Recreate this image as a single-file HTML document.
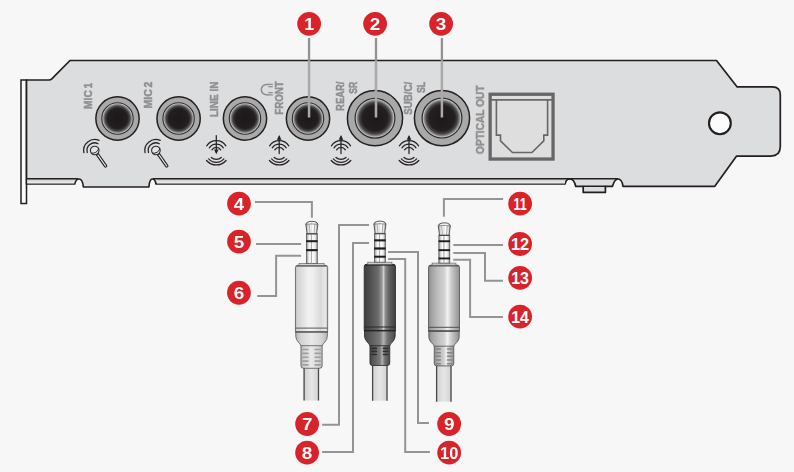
<!DOCTYPE html>
<html>
<head>
<meta charset="utf-8">
<title>Sound card connectors</title>
<style>
html,body{margin:0;padding:0;background:#f7f7f7;}
body{width:794px;height:472px;overflow:hidden;font-family:"Liberation Sans",sans-serif;}
svg{display:block;}
text{font-family:"Liberation Sans",sans-serif;font-weight:bold;}
.lbl{fill:#909090;stroke:#909090;stroke-width:0.5;stroke-linejoin:round;font-size:11.5px;}
.num{fill:#fff;font-size:17px;text-anchor:middle;}
.ld{fill:none;stroke:#949494;stroke-width:2;}
.ic{fill:none;stroke:#262223;stroke-width:1.25;stroke-linecap:round;}
</style>
</head>
<body>
<svg width="794" height="472" viewBox="0 0 794 472">
<defs>
  <radialGradient id="hole" cx="50%" cy="50%" r="50%">
    <stop offset="0" stop-color="#1c1819"/>
    <stop offset="0.64" stop-color="#231f20"/>
    <stop offset="0.79" stop-color="#474546"/>
    <stop offset="0.89" stop-color="#8a8a8a"/>
    <stop offset="0.945" stop-color="#c0c0c0"/>
    <stop offset="1" stop-color="#c8c8c8"/>
  </radialGradient>
  <linearGradient id="lip" x1="0" y1="0" x2="0" y2="1">
    <stop offset="0" stop-color="#c9c9c9"/>
    <stop offset="1" stop-color="#f2f2f2"/>
  </linearGradient>
  <linearGradient id="metal" x1="0" y1="0" x2="1" y2="0">
    <stop offset="0" stop-color="#8c8c8c"/>
    <stop offset="0.16" stop-color="#d4d4d4"/>
    <stop offset="0.32" stop-color="#ffffff"/>
    <stop offset="0.46" stop-color="#e2e2e2"/>
    <stop offset="0.6" stop-color="#ffffff"/>
    <stop offset="0.82" stop-color="#e6e6e6"/>
    <stop offset="1" stop-color="#8c8c8c"/>
  </linearGradient>
  <linearGradient id="bodyW" x1="0" y1="0" x2="1" y2="0">
    <stop offset="0" stop-color="#bdbdbd"/>
    <stop offset="0.06" stop-color="#d2d2d2"/>
    <stop offset="0.4" stop-color="#f1f1f1"/>
    <stop offset="0.55" stop-color="#eeeeee"/>
    <stop offset="0.78" stop-color="#dadada"/>
    <stop offset="0.93" stop-color="#e8e8e8"/>
    <stop offset="1" stop-color="#c2c2c2"/>
  </linearGradient>
  <linearGradient id="bodyD" x1="0" y1="0" x2="1" y2="0">
    <stop offset="0" stop-color="#3d3d3d"/>
    <stop offset="0.2" stop-color="#505050"/>
    <stop offset="0.45" stop-color="#6c6c6c"/>
    <stop offset="0.57" stop-color="#9a9a9a"/>
    <stop offset="0.62" stop-color="#d4d4d4"/>
    <stop offset="0.67" stop-color="#8e8e8e"/>
    <stop offset="0.8" stop-color="#606060"/>
    <stop offset="1" stop-color="#3f3f3f"/>
  </linearGradient>
  <linearGradient id="bodyD2" x1="0" y1="0" x2="1" y2="0">
    <stop offset="0" stop-color="#484848"/>
    <stop offset="0.25" stop-color="#606060"/>
    <stop offset="0.5" stop-color="#7a7a7a"/>
    <stop offset="0.62" stop-color="#b0b0b0"/>
    <stop offset="0.75" stop-color="#727272"/>
    <stop offset="1" stop-color="#4a4a4a"/>
  </linearGradient>
  <linearGradient id="bodyW2" x1="0" y1="0" x2="1" y2="0">
    <stop offset="0" stop-color="#b4b4b4"/>
    <stop offset="0.15" stop-color="#d2d2d2"/>
    <stop offset="0.5" stop-color="#e9e9e9"/>
    <stop offset="0.8" stop-color="#d6d6d6"/>
    <stop offset="1" stop-color="#b8b8b8"/>
  </linearGradient>
  <linearGradient id="bodyG" x1="0" y1="0" x2="1" y2="0">
    <stop offset="0" stop-color="#8a8a8a"/>
    <stop offset="0.1" stop-color="#a2a2a2"/>
    <stop offset="0.3" stop-color="#bebebe"/>
    <stop offset="0.5" stop-color="#d0d0d0"/>
    <stop offset="0.62" stop-color="#f2f2f2"/>
    <stop offset="0.72" stop-color="#cfcfcf"/>
    <stop offset="0.85" stop-color="#b2b2b2"/>
    <stop offset="1" stop-color="#909090"/>
  </linearGradient>
  <linearGradient id="cable" x1="0" y1="0" x2="1" y2="0">
    <stop offset="0" stop-color="#cfcfcf"/>
    <stop offset="0.5" stop-color="#e6e6e6"/>
    <stop offset="1" stop-color="#d2d2d2"/>
  </linearGradient>

  <!-- small jack -->
  <g id="jackS">
    <circle r="21.65" fill="#a9a9aa" stroke="#231f20" stroke-width="1.5"/>
    <circle r="15.7" fill="url(#hole)" stroke="#2f2c2d" stroke-width="1.1"/>
  </g>
  <!-- large jack -->
  <g id="jackL">
    <circle r="27.6" fill="#a9a9aa" stroke="#231f20" stroke-width="1.5"/>
    <circle r="19.9" fill="url(#hole)" stroke="#2f2c2d" stroke-width="1.2"/>
  </g>

  <!-- mic icon, origin = mic head centre -->
  <g id="mic">
    <path class="ic" d="M-10.8 2.2 A11 11 0 0 1 4.3 -10.1"/>
    <path class="ic" d="M-7.4 2 A7.6 7.6 0 0 1 3.4 -6.8"/>
    <path d="M1.66 4.36 L3.54 3.04 L11.84 14.84 A1.15 1.15 0 0 1 9.96 16.16 Z" fill="#f2f2f2" stroke="#262223" stroke-width="1.15" stroke-linejoin="round"/>
    <circle r="4.3" fill="#e4e4e4" stroke="#2a2a2a" stroke-width="1.1"/>
    <path class="ic" d="M-3.1 2.7 Q1.9 3.3 3.9 -1.5" style="stroke-width:1"/>
  </g>

  <!-- wave arcs, origin = centre -->
  <g id="arcs">
    <path class="ic" d="M-9.6 -6.2 A11.6 11.6 0 0 1 9.6 -6.2"/>
    <path class="ic" d="M-7 -4.2 A8.4 8.4 0 0 1 7 -4.2"/>
    <path class="ic" d="M-4.4 -2.2 A5.2 5.2 0 0 1 4.4 -2.2"/>
    <path class="ic" d="M-9.8 8.5 A13 13 0 0 0 9.8 8.5"/>
    <path class="ic" d="M-7.6 6.9 A10.2 10.2 0 0 0 7.6 6.9"/>
    <path class="ic" d="M-5 5.5 A7.4 7.4 0 0 0 5 5.5"/>
  </g>
  <g id="lineout">
    <use href="#arcs"/>
    <path d="M0 -15.2 L0 1.6" class="ic" stroke-width="1.2"/>
    <path d="M0 -17 L2.3 -12.3 L-2.3 -12.3 Z" fill="#262223"/>
  </g>
  <g id="linein">
    <use href="#arcs"/>
    <path d="M0 -16.4 L0 0" class="ic" stroke-width="1.2"/>
    <path d="M0 2.2 L2.3 -2.5 L-2.3 -2.5 Z" fill="#262223"/>
  </g>

  <!-- callout disc -->
  <circle id="disc" r="11.9" fill="#d8232a"/>
</defs>

<rect width="794" height="472" fill="#f7f7f7"/>

<!-- ===== bracket ===== -->
<rect x="21" y="80" width="5.5" height="123.5" fill="#fbfbfb" stroke="#231f20" stroke-width="1.5"/>
<path id="brk" d="M26.5 80 L49 80 Q50.6 80 51.8 78.8 L70 60.5 L716.5 60.5 L737.2 86.9 L772.3 86.9 Q780.3 86.9 780.3 94.9 L780.3 146.6 Q780.3 156.1 770.8 156.1 L736.6 156.1 L714.8 186.3
 L623 186.3 C622.5 183 622 179 618 179 C614.5 179 613.5 183 612.5 186.3
 L605.4 186.3 L605.4 192.4 L583.2 192.4 L583.2 186.3 L575.7 186.3
 C575 183 574 179 570 179 C566.5 179 566 181 565 184
 L156 184 C155.5 181 155 179 152.4 179 C149.6 179 149.2 183 148.9 187
 L83.4 187 C83 183 82.5 179 79 179 C76 179 75.4 181 74.7 184
 L26.5 184 Z" fill="#dcddde" stroke="#231f20" stroke-width="1.7" stroke-linejoin="round"/>
<!-- lips -->
<rect x="27.3" y="179" width="47" height="4.4" fill="url(#lip)"/>
<rect x="157" y="179" width="408" height="4.4" fill="url(#lip)"/>
<path d="M26.5 178.8 L78 178.8 M153 178.8 L618 178.8 M583.2 186.3 L605.4 186.3" fill="none" stroke="#231f20" stroke-width="1.5"/>
<!-- screw hole -->
<circle cx="719.9" cy="123.3" r="10.9" fill="#fcfcfc" stroke="#231f20" stroke-width="2.1"/>

<!-- jacks -->
<use href="#jackS" x="117.5" y="118.5"/>
<use href="#jackS" x="178.6" y="118.5"/>
<use href="#jackS" x="245" y="118.5"/>
<use href="#jackS" x="308" y="118.5"/>
<use href="#jackL" x="375" y="118.2"/>
<use href="#jackL" x="442" y="118.1"/>

<!-- optical -->
<rect x="490.15" y="94.25" width="62.9" height="64.8" fill="#dedede" stroke="#676768" stroke-width="3.3"/>
<path d="M491 99.9 H552" stroke="#676768" stroke-width="1.6" fill="none"/>
<path d="M496.4 99.9 V135.1 H500.5 V140.9 L512.4 152.5 H531.9 L543.8 140.9 V135.1 H547.6 V99.9" stroke="#676768" stroke-width="1.6" fill="none"/>

<!-- labels -->
<g opacity="0.999">
<text class="lbl" transform="translate(92.4 108.9) rotate(-90)" textLength="26.2" lengthAdjust="spacingAndGlyphs" style="word-spacing:-1.2px">MIC 1</text>
<text class="lbl" transform="translate(152.0 108.4) rotate(-90)" textLength="26.8" lengthAdjust="spacingAndGlyphs" style="word-spacing:-1.2px">MIC 2</text>
<text class="lbl" transform="translate(218.3 117.0) rotate(-90)" textLength="35.4" lengthAdjust="spacingAndGlyphs">LINE IN</text>
<text class="lbl" transform="translate(282.9 114.8) rotate(-90)" textLength="33.6" lengthAdjust="spacingAndGlyphs">FRONT</text>
<text class="lbl" transform="translate(344.0 110.9) rotate(-90)" textLength="29.2" lengthAdjust="spacingAndGlyphs">REAR/</text>
<text class="lbl" transform="translate(357.3 93.7) rotate(-90)" textLength="12.0" lengthAdjust="spacingAndGlyphs">SR</text>
<text class="lbl" transform="translate(412.0 114.7) rotate(-90)" textLength="33.0" lengthAdjust="spacingAndGlyphs">SUB/C/</text>
<text class="lbl" transform="translate(424.8 93.1) rotate(-90)" textLength="11.4" lengthAdjust="spacingAndGlyphs">SL</text>
<text class="lbl" transform="translate(484.0 154.1) rotate(-90)" textLength="68.6" lengthAdjust="spacingAndGlyphs">OPTICAL OUT</text>
</g>
<!-- headphone glyph -->
<g fill="none" stroke="#8c8c8c" stroke-width="1.5">
  <path d="M268.6 84.4 L266.5 84.4 A5.2 5.2 0 0 0 266.5 94.8 L268.6 94.8"/>
  <path d="M268 84.4 H272.8 M268.4 86.7 H272.8 M268.4 92.5 H272.8 M268 94.8 H272.8" stroke-width="1.25"/>
</g>

<!-- icons -->
<use href="#mic" x="94.7" y="150.5"/>
<use href="#mic" x="155.9" y="150.5"/>
<use href="#linein" x="216.3" y="152"/>
<use href="#lineout" x="279.2" y="152"/>
<use href="#lineout" x="341" y="152"/>
<use href="#lineout" x="409" y="152"/>

<!-- leaders 1-3 -->
<path class="ld" d="M309.05 38 V61 M376 38 V61 M441.9 38 V61" style="stroke:#929292;stroke-width:2.3"/>
<path class="ld" d="M309.05 61 V117.5 M376 61 V117.4 M441.9 61 V117.4" style="stroke:#a9a9a9;stroke-width:2.5"/>

<!-- PLUGS inserted below -->
<!--PLUGS_START-->
<g id="plugA">
<rect x="303.60" y="367.3" width="15.40" height="33.2" fill="url(#cable)"/>
<path d="M304.10 367.3 V400.5 M318.50 367.3 V400.5" stroke="#4a4a4a" stroke-width="1.3" fill="none"/>
<path d="M300.95 344.7 L300.95 365.8 Q300.95 368.3 303.45 368.3 L319.65 368.3 Q322.15 368.3 322.15 365.8 L322.15 344.7 Z" fill="url(#bodyW2)" stroke="#585858" stroke-width="0.8"/>
<path d="M302.85 349.5 H307.95 M315.15 349.5 H320.25" stroke="#a0a0a0" stroke-width="1.6" stroke-linecap="round" fill="none"/>
<path d="M302.85 353.4 H307.95 M315.15 353.4 H320.25" stroke="#a0a0a0" stroke-width="1.6" stroke-linecap="round" fill="none"/>
<path d="M302.85 357.2 H307.95 M315.15 357.2 H320.25" stroke="#a0a0a0" stroke-width="1.6" stroke-linecap="round" fill="none"/>
<path d="M302.85 361.1 H307.95 M315.15 361.1 H320.25" stroke="#a0a0a0" stroke-width="1.6" stroke-linecap="round" fill="none"/>
<path d="M302.85 364.9 H307.95 M315.15 364.9 H320.25" stroke="#a0a0a0" stroke-width="1.6" stroke-linecap="round" fill="none"/>
<path d="M295.75 331.9 L295.75 336.3 C295.75 341.3 300.45 343.2 300.95 345.7 L322.15 345.7 C322.65 343.2 327.35 341.3 327.35 336.3 L327.35 331.9 Z" fill="url(#bodyW2)" stroke="#585858" stroke-width="0.8"/>
<path d="M295.45 267.4 Q295.45 265.4 297.45 265.4 L325.65 265.4 Q327.65 265.4 327.65 267.4 L327.65 331.9 L295.45 331.9 Z" fill="url(#bodyW)" stroke="#585858" stroke-width="0.8"/>
<path d="M295.45 328.1 H327.65" stroke="#585858" stroke-width="1" fill="none"/>
<path d="M295.25 331.9 H327.85" stroke="#585858" stroke-width="1.4" fill="none"/>
<path d="M296.45 265.9 H326.65" stroke="#585858" stroke-width="1.5" fill="none"/>
<rect x="299.05" y="263.6" width="25.00" height="1.8" fill="#d2d2d2" stroke="#666" stroke-width="0.7"/>
<rect x="306.40" y="233.6" width="10.90" height="30.0" fill="url(#metal)" stroke="#5c5c5c" stroke-width="0.8"/>
<path d="M311.45 234.6 V263.6" stroke="#a0a0a0" stroke-width="0.8" fill="none"/>
<rect x="306.10" y="240.20" width="11.50" height="2.00" fill="#1c1c1c"/>
<rect x="306.10" y="249.10" width="11.50" height="2.10" fill="#1c1c1c"/>
<path d="M307.10 233.6 L305.80 224.2 Q306.10 222.5 308.65 221.7 Q311.85 220.9 315.05 221.7 Q317.60 222.5 317.90 224.2 L316.60 233.6 Z" fill="url(#metal)" stroke="#4a4a4a" stroke-width="0.9"/>
<path d="M306.10 224.4 Q311.85 223.4 317.60 224.4" stroke="#6a6a6a" stroke-width="0.7" fill="none"/>
<path d="M309.25 224.4 L309.95 233.6 M314.75 224.4 L314.05 233.6" stroke="#8a8a8a" stroke-width="0.7" fill="none"/>
<path d="M306.40 234.0 H317.30" stroke="#4a4a4a" stroke-width="1" fill="none"/>
</g>
<g id="plugB">
<rect x="372.10" y="364.5" width="15.40" height="36.2" fill="url(#cable)"/>
<path d="M372.60 364.5 V400.7 M387.00 364.5 V400.7" stroke="#4a4a4a" stroke-width="1.3" fill="none"/>
<path d="M369.95 344.7 L369.95 363.0 Q369.95 365.5 372.45 365.5 L387.25 365.5 Q389.75 365.5 389.75 363.0 L389.75 344.7 Z" fill="url(#bodyD2)" stroke="#262626" stroke-width="0.8"/>
<path d="M371.85 348.4 H376.25 M383.45 348.4 H387.85" stroke="#2e2e2e" stroke-width="1.6" stroke-linecap="round" fill="none"/>
<path d="M371.85 351.4 H376.25 M383.45 351.4 H387.85" stroke="#2e2e2e" stroke-width="1.6" stroke-linecap="round" fill="none"/>
<path d="M371.85 354.5 H376.25 M383.45 354.5 H387.85" stroke="#2e2e2e" stroke-width="1.6" stroke-linecap="round" fill="none"/>
<path d="M364.50 330.6 L364.50 336.0 C364.50 341.0 369.45 343.2 369.95 345.7 L389.75 345.7 C390.25 343.2 395.20 341.0 395.20 336.0 L395.20 330.6 Z" fill="url(#bodyD2)" stroke="#262626" stroke-width="0.8"/>
<path d="M364.20 266.4 Q364.20 264.4 366.20 264.4 L393.50 264.4 Q395.50 264.4 395.50 266.4 L395.50 330.6 L364.20 330.6 Z" fill="url(#bodyD)" stroke="#262626" stroke-width="0.8"/>
<path d="M364.20 327.0 H395.50" stroke="#262626" stroke-width="1" fill="none"/>
<path d="M364.00 330.6 H395.70" stroke="#262626" stroke-width="1.4" fill="none"/>
<path d="M365.20 264.9 H394.50" stroke="#262626" stroke-width="1.5" fill="none"/>
<rect x="367.75" y="262.2" width="24.20" height="2.1" fill="#d2d2d2" stroke="#666" stroke-width="0.7"/>
<rect x="374.45" y="233.4" width="10.90" height="28.8" fill="url(#metal)" stroke="#5c5c5c" stroke-width="0.8"/>
<path d="M379.50 234.4 V262.2" stroke="#a0a0a0" stroke-width="0.8" fill="none"/>
<rect x="374.15" y="239.30" width="11.50" height="2.10" fill="#1c1c1c"/>
<rect x="374.15" y="247.40" width="11.50" height="2.20" fill="#1c1c1c"/>
<rect x="374.15" y="255.70" width="11.50" height="2.00" fill="#1c1c1c"/>
<path d="M375.15 233.4 L373.85 224.0 Q374.15 222.3 376.70 221.5 Q379.90 220.7 383.10 221.5 Q385.65 222.3 385.95 224.0 L384.65 233.4 Z" fill="url(#metal)" stroke="#4a4a4a" stroke-width="0.9"/>
<path d="M374.15 224.2 Q379.90 223.2 385.65 224.2" stroke="#6a6a6a" stroke-width="0.7" fill="none"/>
<path d="M377.30 224.2 L378.00 233.4 M382.80 224.2 L382.10 233.4" stroke="#8a8a8a" stroke-width="0.7" fill="none"/>
<path d="M374.45 233.8 H385.35" stroke="#4a4a4a" stroke-width="1" fill="none"/>
</g>
<g id="plugC">
<rect x="436.10" y="364.9" width="15.40" height="36.8" fill="url(#cable)"/>
<path d="M436.60 364.9 V401.7 M451.00 364.9 V401.7" stroke="#4a4a4a" stroke-width="1.3" fill="none"/>
<path d="M434.25 345.2 L434.25 363.4 Q434.25 365.9 436.75 365.9 L451.25 365.9 Q453.75 365.9 453.75 363.4 L453.75 345.2 Z" fill="url(#bodyG)" stroke="#4f4f4f" stroke-width="0.8"/>
<path d="M436.15 349.0 H440.40 M447.60 349.0 H451.85" stroke="#858585" stroke-width="1.6" stroke-linecap="round" fill="none"/>
<path d="M436.15 352.7 H440.40 M447.60 352.7 H451.85" stroke="#858585" stroke-width="1.6" stroke-linecap="round" fill="none"/>
<path d="M436.15 356.3 H440.40 M447.60 356.3 H451.85" stroke="#858585" stroke-width="1.6" stroke-linecap="round" fill="none"/>
<path d="M436.15 360.0 H440.40 M447.60 360.0 H451.85" stroke="#858585" stroke-width="1.6" stroke-linecap="round" fill="none"/>
<path d="M436.15 363.7 H440.40 M447.60 363.7 H451.85" stroke="#858585" stroke-width="1.6" stroke-linecap="round" fill="none"/>
<path d="M428.80 331.0 L428.80 337.0 C428.80 342.0 433.75 343.7 434.25 346.2 L453.75 346.2 C454.25 343.7 459.20 342.0 459.20 337.0 L459.20 331.0 Z" fill="url(#bodyG)" stroke="#4f4f4f" stroke-width="0.8"/>
<path d="M428.50 267.2 Q428.50 265.2 430.50 265.2 L457.50 265.2 Q459.50 265.2 459.50 267.2 L459.50 331.0 L428.50 331.0 Z" fill="url(#bodyG)" stroke="#4f4f4f" stroke-width="0.8"/>
<path d="M428.50 327.3 H459.50" stroke="#4f4f4f" stroke-width="1" fill="none"/>
<path d="M428.30 331.0 H459.70" stroke="#4f4f4f" stroke-width="1.4" fill="none"/>
<path d="M429.50 265.7 H458.50" stroke="#4f4f4f" stroke-width="1.5" fill="none"/>
<rect x="432.10" y="263.1" width="23.80" height="2.1" fill="#d2d2d2" stroke="#666" stroke-width="0.7"/>
<rect x="438.85" y="235.1" width="10.90" height="28.0" fill="url(#metal)" stroke="#5c5c5c" stroke-width="0.8"/>
<path d="M443.90 236.1 V263.1" stroke="#a0a0a0" stroke-width="0.8" fill="none"/>
<rect x="438.55" y="240.30" width="11.50" height="1.90" fill="#1c1c1c"/>
<rect x="438.55" y="249.20" width="11.50" height="1.90" fill="#1c1c1c"/>
<rect x="438.55" y="257.50" width="11.50" height="1.90" fill="#1c1c1c"/>
<path d="M439.55 235.1 L438.25 225.7 Q438.55 224.0 441.10 223.2 Q444.30 222.4 447.50 223.2 Q450.05 224.0 450.35 225.7 L449.05 235.1 Z" fill="url(#metal)" stroke="#4a4a4a" stroke-width="0.9"/>
<path d="M438.55 225.9 Q444.30 224.9 450.05 225.9" stroke="#6a6a6a" stroke-width="0.7" fill="none"/>
<path d="M441.70 225.9 L442.40 235.1 M447.20 225.9 L446.50 235.1" stroke="#8a8a8a" stroke-width="0.7" fill="none"/>
<path d="M438.85 235.5 H449.75" stroke="#4a4a4a" stroke-width="1" fill="none"/>
</g>
<!--PLUGS_END-->

<!-- leaders 4-14 -->
<path class="ld" d="M255 202 H311.9 V217.7"/>
<path class="ld" d="M256 244 H301.1"/>
<path class="ld" d="M257.2 296 H276.1 V255.8 H301.1"/>
<path class="ld" d="M322.1 424.8 H339 V225 H369"/>
<path class="ld" d="M322.1 451.9 H353 V243 H369"/>
<path class="ld" d="M429 422.9 H418 V252 H388.1"/>
<path class="ld" d="M429.9 451.9 H405.2 V259 H388.1"/>
<path class="ld" d="M503 199 H443.9 V216.8"/>
<path class="ld" d="M503 244.9 H453.3"/>
<path class="ld" d="M503 280.8 H485 V253 H453.3"/>
<path class="ld" d="M503 316.9 H470.1 V259.7 H453.3"/>

<!-- callouts -->
<g>
  <use href="#disc" x="309.1" y="23.8"/><text class="num" x="309.1" y="30.15" textLength="9.9" lengthAdjust="spacingAndGlyphs">1</text>
  <use href="#disc" x="375.1" y="23.85"/><text class="num" x="375.1" y="30.15" textLength="10.5" lengthAdjust="spacingAndGlyphs">2</text>
  <use href="#disc" x="441.1" y="23.85"/><text class="num" x="441.1" y="30.15" textLength="10.5" lengthAdjust="spacingAndGlyphs">3</text>
  <use href="#disc" x="239.0" y="203.6"/><text class="num" x="239.0" y="209.80" textLength="10.3" lengthAdjust="spacingAndGlyphs">4</text>
  <use href="#disc" x="239.0" y="241.55"/><text class="num" x="239.0" y="247.75" textLength="10.5" lengthAdjust="spacingAndGlyphs">5</text>
  <use href="#disc" x="238.95" y="292.75"/><text class="num" x="238.95" y="298.95" textLength="10.5" lengthAdjust="spacingAndGlyphs">6</text>
  <use href="#disc" x="307.1" y="424.0"/><text class="num" x="307.1" y="430.20" textLength="10.4" lengthAdjust="spacingAndGlyphs">7</text>
  <use href="#disc" x="307.1" y="452.7"/><text class="num" x="307.1" y="458.90" textLength="10.5" lengthAdjust="spacingAndGlyphs">8</text>
  <use href="#disc" x="449.15" y="424.0"/><text class="num" x="449.15" y="430.20" textLength="10.5" lengthAdjust="spacingAndGlyphs">9</text>
  <use href="#disc" x="449.15" y="452.7"/><text class="num" x="449.15" y="458.90" textLength="18.3" lengthAdjust="spacingAndGlyphs">10</text>
  <use href="#disc" x="520.1" y="203.7"/><text class="num" x="520.1" y="209.90" textLength="13.3" lengthAdjust="spacingAndGlyphs">11</text>
  <use href="#disc" x="520.1" y="244.0"/><text class="num" x="520.1" y="250.20" textLength="18.2" lengthAdjust="spacingAndGlyphs">12</text>
  <use href="#disc" x="520.1" y="277.8"/><text class="num" x="520.1" y="284.00" textLength="17.8" lengthAdjust="spacingAndGlyphs">13</text>
  <use href="#disc" x="520.1" y="316.7"/><text class="num" x="520.1" y="322.90" textLength="17.8" lengthAdjust="spacingAndGlyphs">14</text>
</g>
</svg>
</body>
</html>
